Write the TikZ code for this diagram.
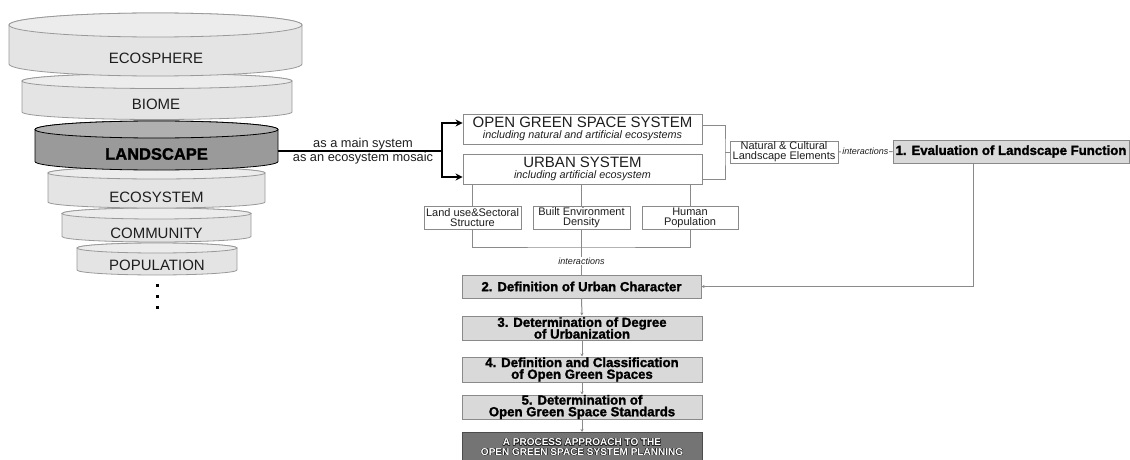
\documentclass[tikz,border=0pt]{standalone}
\usepackage{fontspec}
\setmainfont{Liberation Sans}
\newfontfamily\heavyfont[FakeBold=1.6]{Liberation Sans Bold}
\usepackage{contour}
\contourlength{0.45pt}
\usetikzlibrary{arrows.meta}
\newcommand\myfs[1]{\fontsize{#1}{#1}\selectfont}
\newcommand\mydisk[8]{%
 \pgfmathsetmacro\rx{(#2-#1)/2}%
 \pgfmathsetmacro\cx{(#1+#2)/2}%
 \filldraw[fill=#6,draw=#8,line width=0.8pt] (#1,-#4) arc[start angle=180,end angle=360,x radius=\rx pt,y radius=#5pt] -- (#2,-#3) arc[start angle=0,end angle=180,x radius=\rx pt,y radius=#5pt] -- cycle;
 \filldraw[fill=#7,draw=#8,line width=0.8pt] (\cx,-#3) ellipse[x radius=\rx pt,y radius=#5pt];
}
\definecolor{disk}{HTML}{E4E4E4}
\definecolor{disktop}{HTML}{ECECEC}
\definecolor{diskline}{HTML}{999999}
\definecolor{land}{HTML}{9A9A9A}
\definecolor{landtop}{HTML}{B0B0B0}
\definecolor{boxline}{HTML}{8A8A8A}
\definecolor{procfill}{HTML}{D9D9D9}
\definecolor{finalfill}{HTML}{747474}
\definecolor{txt}{HTML}{1E1E1E}
\tikzset{
 disktext/.style={inner sep=0pt,text=txt,font=\myfs{15}},
 wbox/.style={draw=boxline,fill=white,line width=0.9pt,inner sep=0pt,align=center,text=txt},
 procbox/.style={draw=boxline,fill=procfill,line width=1pt,inner sep=0pt,align=center,font=\heavyfont\myfs{13.2}},
 conn/.style={draw=boxline,line width=1pt},
 flow/.style={conn,-{Stealth[length=3pt,width=3pt]}},
 main/.style={draw=black,line width=1.8pt},
 mainarrow/.style={main,-{Stealth[length=7pt,width=7pt]}},
 lbl/.style={inner sep=0pt,text=txt,font=\myfs{12.8}},
 inter/.style={fill=white,inner sep=1pt,text=txt,font=\itshape\myfs{9}}
}
\begin{document}
\begin{tikzpicture}[x=1pt,y=1pt]
\useasboundingbox (0,0) rectangle (1130,-460);
% disk stack (drawn bottom to top)
\mydisk{77}{237}{248}{270}{5}{disk}{disktop}{diskline}
\mydisk{62}{251}{213.5}{236.5}{5.5}{disk}{disktop}{diskline}
\mydisk{48}{265}{173}{202}{6}{disk}{disktop}{diskline}
\mydisk{35}{278}{129.5}{161.5}{8.5}{land}{landtop}{black}
\mydisk{22}{292}{81}{112}{7.5}{disk}{disktop}{diskline}
\mydisk{9}{302}{25}{64}{12}{disk}{disktop}{diskline}
\node[disktext] (ecosphere) at (156,-58) {ECOSPHERE};
\node[disktext] (biome) at (156,-104) {BIOME};
\node[inner sep=0pt,font=\heavyfont\myfs{16.5}] (landscape) at (156.5,-154) {LANDSCAPE};
\node[disktext] (ecosystem) at (156.5,-197) {ECOSYSTEM};
\node[disktext] (community) at (156.5,-233) {COMMUNITY};
\node[disktext] (population) at (157,-265) {POPULATION};
\foreach \yy in {285,296,307} \fill (155.5,-\yy-1.5) rectangle ++(3,3);
% main connector
\coordinate (landR) at (278,-151);
\coordinate (br) at (442,-151);
\node[wbox,minimum width=239pt,minimum height=30pt] (ogss) at (582.5,-129)
 {{\myfs{15}OPEN GREEN SPACE SYSTEM}\\[-0.5pt]{\itshape\myfs{10.8}including natural and artificial ecosystems}};
\node[wbox,minimum width=239pt,minimum height=30pt] (urban) at (582.5,-169)
 {{\myfs{15}URBAN SYSTEM}\\[-0.5pt]{\itshape\myfs{10.8}including artificial ecosystem}};
\draw[main] (landR) -- (br);
\draw[mainarrow] (br) |- ([yshift=6pt]ogss.west);
\draw[mainarrow] (br) |- ([yshift=-8pt]urban.west);
\node[lbl] (lbl1) at (363,-144) {as a main system};
\node[lbl] (lbl2) at (363,-158) {as an ecosystem mosaic};
% right side
\node[wbox,minimum width=108pt,minimum height=22pt,font=\myfs{11}] (nat) at (784,-152)
 {Natural \& Cultural\\[-1pt]Landscape Elements};
\node[procbox,minimum width=236pt,minimum height=23pt] (eval) at (1011,-151.5)
 {1. Evaluation of Landscape Function};
\coordinate (bx) at (725,-152);
\draw[conn] ([yshift=4pt]ogss.east) -| (bx) |- ([yshift=-10pt]urban.east);
\draw[conn] (bx) -- (nat.west);
\draw[conn] (nat.east) -- node[inter] (int1) {interactions} (eval.west);
% sub-boxes
\node[wbox,minimum width=97pt,minimum height=23pt,font=\myfs{11}] (landuse) at (472.5,-217.5)
 {Land use\&Sectoral\\[-1pt]Structure};
\node[wbox,minimum width=97pt,minimum height=23pt,font=\myfs{11}] (built) at (581.5,-217.5)
 {Built Environment\\[-1pt]Density};
\node[wbox,minimum width=96pt,minimum height=23pt,font=\myfs{11}] (human) at (690,-217.5)
 {Human\\[-1pt]Population};
\draw[conn] (landuse.north) -- (landuse.north |- urban.south);
\draw[conn] (built.north) -- (built.north |- urban.south);
\draw[conn] (human.north) -- (human.north |- urban.south);
\coordinate (join) at (581.5,-247);
\draw[conn] (landuse.south) |- (join) -| (human.south);
% process boxes
\node[procbox,minimum width=239pt,minimum height=23pt] (box2) at (581.5,-286.5)
 {2. Definition of Urban Character};
\node[procbox,minimum width=240pt,minimum height=24pt] (box3) at (582,-328)
 {3. Determination of Degree\\[-1.5pt]of Urbanization};
\node[procbox,minimum width=240pt,minimum height=25pt] (box4) at (582,-369.5)
 {4. Definition and Classification\\[-1.5pt]of Open Green Spaces};
\node[procbox,minimum width=240pt,minimum height=24pt] (box5) at (582,-407)
 {5. Determination of\\[-1.5pt]Open Green Space Standards};
\node[draw=black!70,fill=finalfill,line width=1pt,minimum width=240pt,minimum height=30pt,inner sep=0pt,align=center,anchor=north,font=\bfseries\myfs{10}] (final) at (582,-432)
 {\contour{black!85}{\textcolor{white}{A PROCESS APPROACH TO THE}}\\[-0.5pt]\contour{black!85}{\textcolor{white}{OPEN GREEN SPACE SYSTEM PLANNING}}};
\draw[conn] (built.south) -- node[inter,pos=0.7] (int2) {interactions} (box2.north);
\draw[flow] ([xshift=-38pt]eval.south) |- (box2.east);
\draw[flow] (box2) -- (box3);
\draw[flow] (box3) -- (box4);
\draw[flow] (box4) -- (box5);
\draw[flow] (box5) -- (final);
\end{tikzpicture}
\end{document}
